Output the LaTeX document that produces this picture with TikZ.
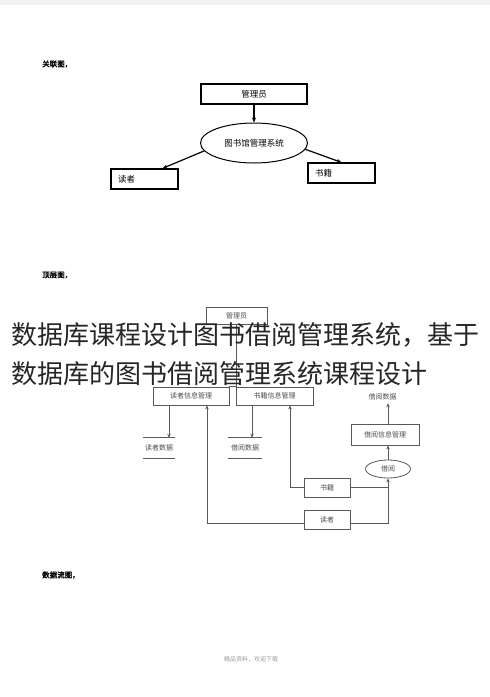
\documentclass[tikz,border=0pt]{standalone}
\usepackage{fontspec}
\setmainfont{Noto Sans CJK SC}
\newfontfamily\cjk{Noto Sans CJK SC}
\newfontfamily\cjkhead[FakeBold=2]{Noto Sans CJK SC}
\usepackage{tikz}
\usetikzlibrary{shapes,arrows.meta,positioning}
\tikzstyle{entity} = [draw,line width=1.2pt,rectangle,inner sep=0,minimum height=20pt,font=\cjk\fontsize{8.5}{9}\selectfont]
\tikzstyle{sidebox} = [entity,minimum width=67pt,text width=53pt,align=left]
\tikzstyle{process} = [draw,line width=1pt,ellipse,inner sep=0,minimum width=107pt,minimum height=40pt,font=\cjk\fontsize{8.5}{9}\selectfont]
\tikzstyle{assoc} = [-{Stealth[length=5pt,width=4pt]},line width=1.2pt]
\tikzstyle{module} = [draw,color=black!65,text=black!70,line width=0.8pt,rectangle,inner sep=0,minimum height=18pt,font=\cjk\fontsize{7}{8}\selectfont]
\tikzstyle{store} = [inner sep=0,minimum width=32pt,minimum height=20pt,text=black!70,font=\cjk\fontsize{7}{8}\selectfont]
\tikzstyle{flow} = [-{Stealth[length=4pt,width=3.5pt]},color=black!65,line width=0.8pt]
\tikzstyle{link} = [-,color=black!65,line width=0.8pt]
\tikzstyle{heading} = [anchor=west,inner sep=0,font=\cjkhead\fontsize{7.5}{8}\selectfont]
\def \gray {black!65}

\begin{document}
\begin{tikzpicture}[x=1pt,y=-1pt]
  \useasboundingbox (0,0) rectangle (490,697);
  \fill[black!5] (0,0) rectangle (490,5);

  % relation diagram
  \node[heading] (h1) at (42,64) {关联图，};
  \node[entity,minimum width=106pt] (adm) at (254,94) {管理员};
  \node[process] (sys) at (254,143) {图书馆管理系统};
  \node[sidebox] (rdr) at (144.5,179) {读者};
  \node[sidebox] (book) at (341.5,173) {书籍};
  \draw[assoc] (adm.south) -- (sys.north);
  \draw[assoc] (sys.189) -- ([xshift=18pt]rdr.north);
  \draw[assoc] (sys.353) -- (book.north);

  % top level diagram
  \node[heading] (h2) at (42,275) {顶层图，};
  \node[module,minimum width=61pt,minimum height=17pt] (adm2) at (236.5,315.5) {管理员};
  \node[module,minimum width=76pt] (rim) at (191,396) {读者信息管理};
  \node[module,minimum width=77pt] (bim) at (274.5,396) {书籍信息管理};
  \node[store] (rds) at (159,448) {读者数据};
  \node[store,minimum width=34pt] (bds) at (245,448) {借阅数据};
  \node[store,minimum height=12pt] (bdata) at (382.5,397) {借阅数据};
  \node[module,minimum width=68pt,minimum height=21pt] (jx) at (385,434.5) {借阅信息管理};
  \node[module,ellipse,minimum width=45pt,minimum height=18pt] (jy) at (388,469) {借阅};
  \node[module,minimum width=46pt,minimum height=19pt] (bk) at (327,487.5) {书籍};
  \node[module,minimum width=46pt,minimum height=19pt] (rd) at (327,519.5) {读者};

  \draw[link] (rds.north west) -- (rds.north east);
  \draw[link] (rds.south west) -- (rds.south east);
  \draw[link] (bds.north west) -- (bds.north east);
  \draw[link] (bds.south west) -- (bds.south east);

  \draw[link] (adm2.south) -- (adm2.south |- rim.north);
  \draw[link] (rim.north east) -- (bim.north west);
  \draw[flow] ([xshift=-22pt]rim.south) -- ([xshift=-22pt]rim.south |- rds.north);
  \draw[flow] ([xshift=-22.5pt]bim.south) -- ([xshift=-22.5pt]bim.south |- bds.north);
  \draw[flow] (bk.west) -| ([xshift=15.5pt]bim.south);
  \draw[flow] ([yshift=-4pt]rd.west) -| ([xshift=16pt]rim.south);
  \draw[flow] (bk.east) -| (jy.south);
  \draw[link] ([yshift=-4pt]rd.east) -| (jy.south |- bk.east);
  \draw[flow] (jy.north) -- (jy.north |- jx.south);
  \draw[flow] (jy.north |- jx.north) -- (jy.north |- bdata.south);

  % data flow diagram
  \node[heading] (h3) at (42,575) {数据流图，};
  \node[inner sep=0,text=black!40,font=\cjk\fontsize{6}{7}\selectfont] (foot) at (251,659) {精品资料，欢迎下载};

  % overlay title
  \node[anchor=west,inner sep=0,text=black!85,font=\cjk\fontsize{26}{28}\selectfont] (t1) at (11,335) {数据库课程设计图书借阅管理系统，基于};
  \node[anchor=west,inner sep=0,text=black!85,font=\cjk\fontsize{26}{28}\selectfont] (t2) at (11,374) {数据库的图书借阅管理系统课程设计};
\end{tikzpicture}
\end{document}
